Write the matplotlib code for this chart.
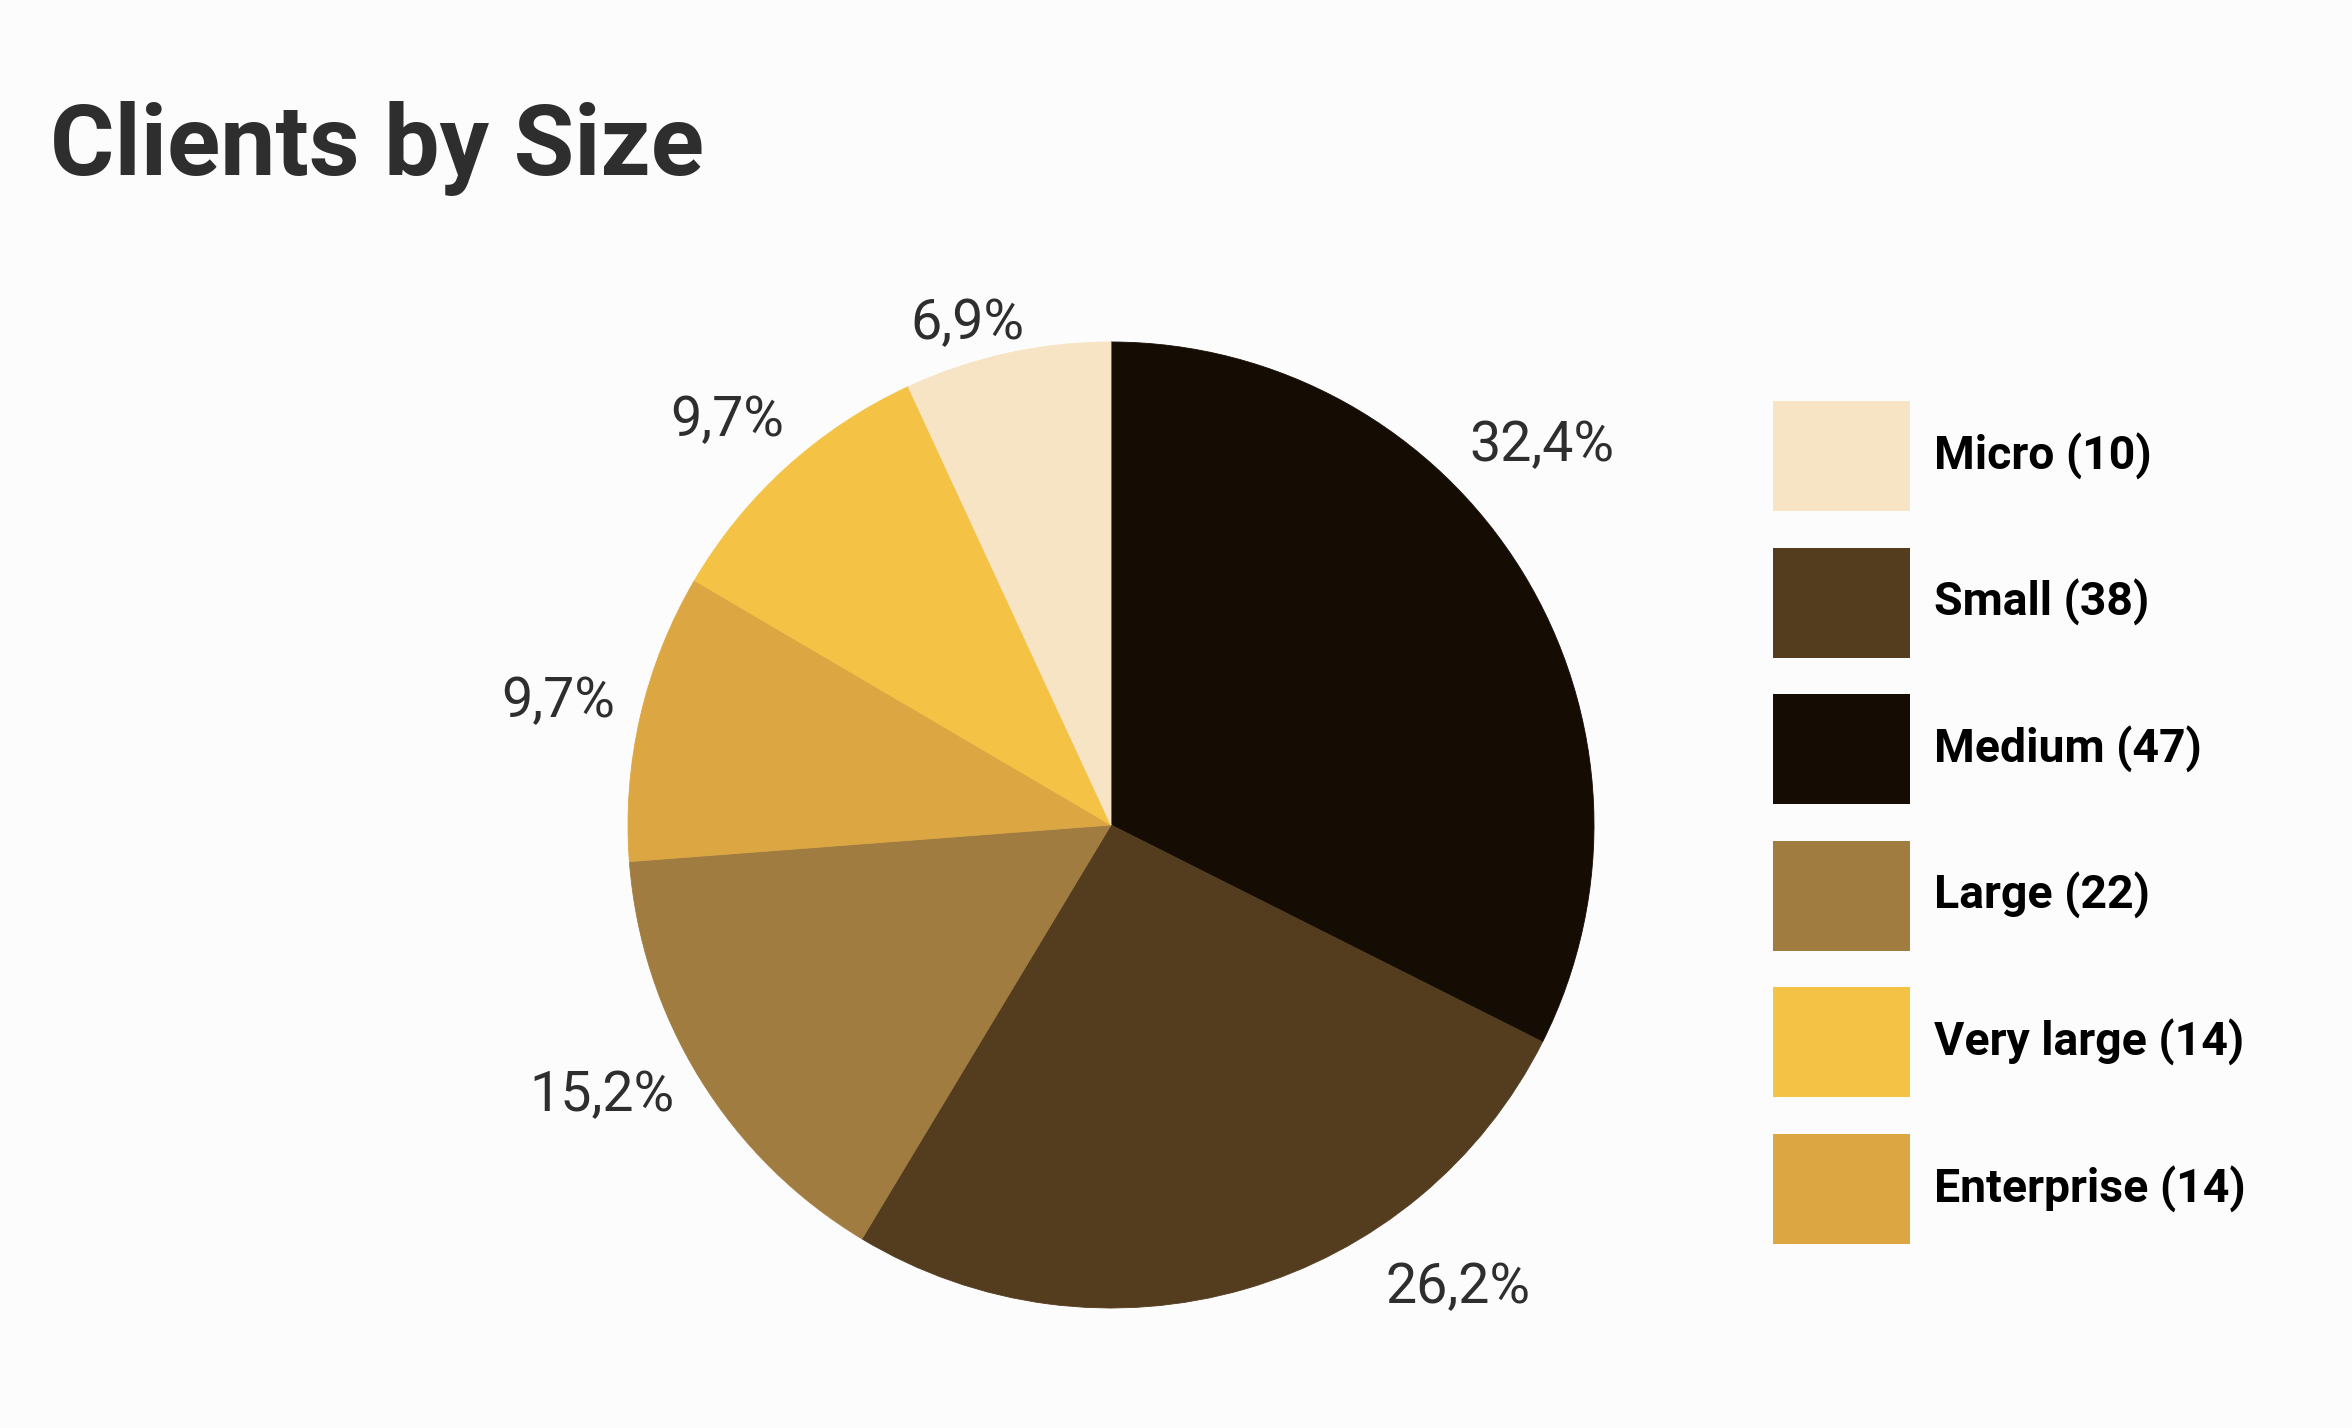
import numpy as np
import matplotlib
matplotlib.use('Agg')
from matplotlib import pyplot as plt
from matplotlib.patches import Patch

plt.rcParams['font.family'] = ['Roboto', 'DejaVu Sans']

categories = ['Micro', 'Small', 'Medium', 'Large', 'Very large', 'Enterprise']
clients = [10, 38, 47, 22, 14, 14]
colors = ['#F7E4C4', '#543D1F', '#150C04', '#A07C40', '#F4C245', '#DCA742']
# slices go clockwise from 12 o'clock in this order
pie_order = ['Medium', 'Small', 'Large', 'Enterprise', 'Very large', 'Micro']

# label placement tweaks: degrees off the mid-angle, radius in pie units
label_shift = [10, 21, -4, 0, 1, 3.5]
label_dist = [1.195, 1.19, 1.19, 1.175, 1.162, 1.088]

W, H = 2352, 1428
fig = plt.figure(figsize=(W / 100, H / 100), dpi=100, facecolor='#fcfcfc')

# pie centre at (1111, 825) px, radius 483 px
R = 483
side = 2.5 * R
ax = fig.add_axes([(1111 - side / 2) / W, (H - 825 - side / 2) / H, side / W, side / H])

idx = [categories.index(c) for c in pie_order]
vals = [clients[i] for i in idx]
cols = [colors[i] for i in idx]
wedges, _ = ax.pie(vals, colors=cols, startangle=90, counterclock=False,
                   radius=1, wedgeprops=dict(linewidth=0.6))
for w, c in zip(wedges, cols):
    w.set_edgecolor(c)

total = sum(vals)
for w, v, sh, d in zip(wedges, vals, label_shift, label_dist):
    mid = np.deg2rad((w.theta1 + w.theta2) / 2 + sh)
    txt = f'{100 * v / total:.1f}%'.replace('.', ',')
    ax.text(d * np.cos(mid), d * np.sin(mid) - 0.041, txt, ha='center', va='baseline',
            fontsize=40, color='#2E2E2E')

ax.set_xlim(-1.25, 1.25)
ax.set_ylim(-1.25, 1.25)
ax.axis('off')

# legend swatches 137x110 px, rows every ~146.6 px
fs = 46.4  # legend font size in px
sw_h = 110 / fs
hh = (sw_h - 0.245) / 0.65  # legend shaves a descent off the handle box
handles = [Patch(facecolor=c, edgecolor='none') for c in colors]
labels = [f'{c} ({n})' for c, n in zip(categories, clients)]
fig.legend(handles, labels, loc='upper left', bbox_to_anchor=(1773 / W, 1 - 401 / H),
           bbox_transform=fig.transFigure, frameon=False, borderpad=0, borderaxespad=0,
           handlelength=137 / fs, handleheight=hh, handletextpad=24 / fs,
           labelspacing=36.6 / fs, prop=dict(weight='bold', size=fs * 0.72),
           labelcolor='black')

fig.text(50 / W, 1 - 175 / H, 'Clients by Size', fontsize=71, fontweight='bold',
         color='#2E2E2E', ha='left', va='baseline')

fig.savefig('out.png', dpi=100, facecolor='#fcfcfc')
